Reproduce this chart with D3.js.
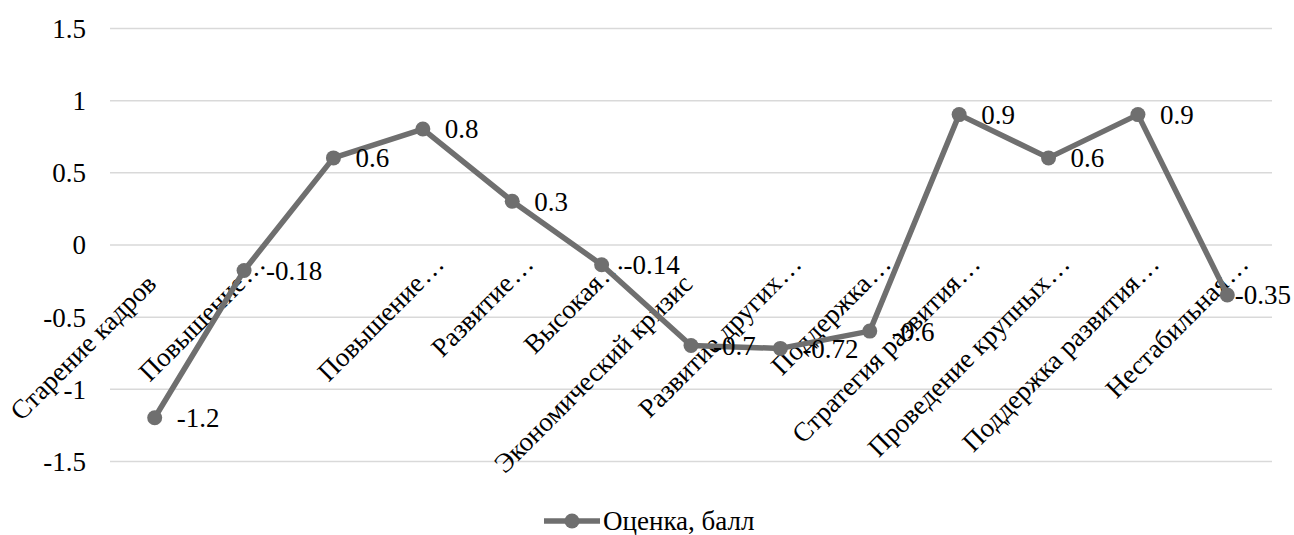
<!DOCTYPE html>
<html>
<head>
<meta charset="utf-8">
<script src="https://cdn.jsdelivr.net/npm/d3@7"></script>
<style>
  html, body { margin: 0; padding: 0; background: #fff; }
</style>
</head>
<body>
<svg id="chart" width="1294" height="535"></svg>
<script>
// Category labels (long ones are shown shortened with an ellipsis)
const categories = [
  "Старение кадров",
  "Повышение…",
  "",
  "Повышение…",
  "Развитие…",
  "Высокая…",
  "Экономический кризис",
  "Развитие других…",
  "Поддержка…",
  "Стратегия развития…",
  "Проведение крупных…",
  "Поддержка развития…",
  "Нестабильная…"
];
const scores = [-1.2, -0.18, 0.6, 0.8, 0.3, -0.14, -0.7, -0.72, -0.6, 0.9, 0.6, 0.9, -0.35];
const yTicks = [-1.5, -1, -0.5, 0, 0.5, 1, 1.5];
const seriesName = "Оценка, балл";

const width = 1294;
const svg = d3.select("#chart");
const fontSize = 27;
const fontFamily = '"Liberation Serif", "Times New Roman", Tinos';
const lineColor = "#6f6f6f";
const gridColor = "#d9d9d9";

const plot = { left: 110, right: 1272, top: 28, bottom: 461 };

const x = d3.scalePoint()
  .domain(d3.range(categories.length))
  .range([plot.left, plot.right])
  .padding(0.5);

const y = d3.scaleLinear()
  .domain([-1.5, 1.5])
  .range([plot.bottom, plot.top]);

function textStyle(sel) {
  sel.style("font-family", fontFamily)
     .style("font-size", fontSize + "px")
     .attr("fill", "#000");
}

// Horizontal gridlines and value labels
const yAxis = d3.axisLeft(y)
  .tickValues(yTicks)
  .tickSize(-(plot.right - plot.left))
  .tickPadding(24)
  .tickFormat(d => String(d));

const gy = svg.append("g")
  .attr("transform", `translate(${plot.left},0)`)
  .call(yAxis);
gy.select(".domain").remove();
gy.selectAll(".tick line")
  .attr("stroke", gridColor)
  .attr("stroke-width", 1.5);
gy.selectAll(".tick text")
  .call(textStyle)
  .attr("dy", "0.35em");

// Rotated category labels, hanging under the zero line
const labels = svg.append("g")
  .selectAll("g")
  .data(categories.map((c, i) => ({ c, i })))
  .join("g")
  .attr("transform", d => `translate(${x(d.i) + 3},${y(0) + 41}) rotate(-45)`);

labels.append("text")
  .call(textStyle)
  .attr("text-anchor", "end")
  .text(d => d.c.replace(/…$/, ""));

labels.filter(d => d.c.endsWith("…"))
  .append("text")
  .call(textStyle)
  .attr("x", 1)
  .attr("text-anchor", "start")
  .text("…");

// Series line
const line = d3.line()
  .x((d, i) => x(i))
  .y(d => y(d));

svg.append("path")
  .datum(scores)
  .attr("fill", "none")
  .attr("stroke", lineColor)
  .attr("stroke-width", 5.5)
  .attr("stroke-linejoin", "round")
  .attr("d", line);

// Point markers
svg.append("g")
  .selectAll("circle")
  .data(scores)
  .join("circle")
  .attr("cx", (d, i) => x(i))
  .attr("cy", d => y(d))
  .attr("r", 7.5)
  .attr("fill", lineColor);

// Value labels to the right of each point, kept inside the drawing
svg.append("g")
  .selectAll("text")
  .data(scores)
  .join("text")
  .call(textStyle)
  .attr("x", (d, i) => x(i) + 22)
  .attr("y", d => y(d))
  .attr("dy", "0.35em")
  .text(d => String(d))
  .each(function () {
    const w = this.getComputedTextLength();
    const x0 = +this.getAttribute("x");
    if (x0 + w > width - 3) this.setAttribute("x", width - 3 - w);
  });

// Legend
const legend = svg.append("g").attr("transform", "translate(544,521)");
legend.append("line")
  .attr("x1", 0).attr("x2", 56)
  .attr("y1", 0).attr("y2", 0)
  .attr("stroke", lineColor)
  .attr("stroke-width", 5.5);
legend.append("circle")
  .attr("cx", 28).attr("cy", 0).attr("r", 7.5)
  .attr("fill", lineColor);
legend.append("text")
  .call(textStyle)
  .attr("x", 59)
  .attr("dy", "0.35em")
  .text(seriesName);
</script>
</body>
</html>
